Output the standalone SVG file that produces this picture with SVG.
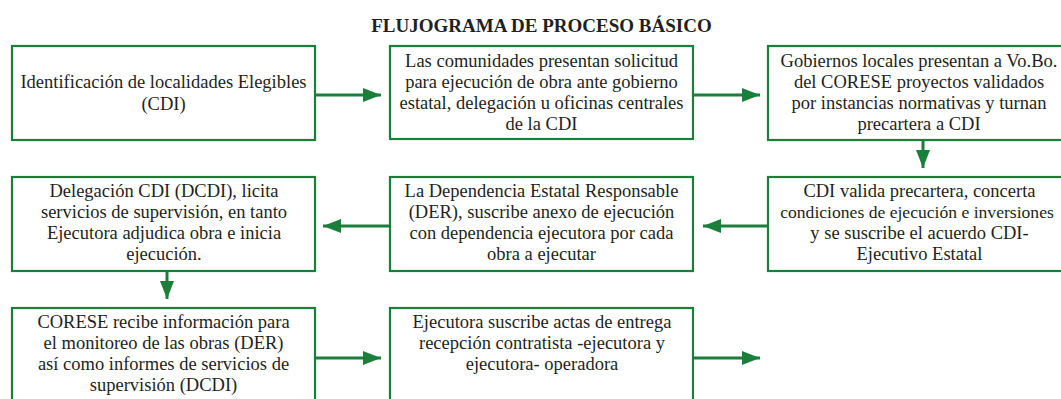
<svg xmlns="http://www.w3.org/2000/svg" width="1061" height="399" viewBox="0 0 1061 399">
<style>
.box{fill:#ffffff;stroke:#1b7f3b;stroke-width:2.2}
.t{font-size:18.5px;fill:#231f20;text-anchor:middle}
.title{font-size:19px;font-weight:bold;fill:#231f20;text-anchor:middle}
.c{stroke:#1b7f3b;stroke-width:3;fill:none}
</style>
<defs>
<marker id="ah" markerUnits="userSpaceOnUse" markerWidth="18" markerHeight="14" refX="18" refY="7" orient="auto">
<path d="M0,0 L18,7 L0,14 Z" fill="#1b7f3b"/>
</marker>
</defs>
<rect width="1061" height="399" fill="#ffffff"/>
<g font-family="'Liberation Serif', 'Times New Roman', 'DejaVu Serif', serif">
<text class="title" x="541.5" y="32">FLUJOGRAMA DE PROCESO BÁSICO</text>

<g id="n1">
<rect class="box" x="12" y="46" width="303" height="94"/>
<text class="t" x="163.5" y="88">Identificación de localidades Elegibles</text>
<text class="t" x="163.5" y="110">(CDI)</text>
</g>
<g id="n2">
<rect class="box" x="390" y="46" width="303" height="93"/>
<text class="t" x="541.5" y="67">Las comunidades presentan solicitud</text>
<text class="t" x="541.5" y="88">para ejecución de obra ante gobierno</text>
<text class="t" x="541.5" y="109">estatal, delegación u oficinas centrales</text>
<text class="t" x="541.5" y="130">de la CDI</text>
</g>
<g id="n3">
<rect class="box" x="768" y="46" width="310" height="94"/>
<text class="t" x="919" y="67">Gobiernos locales presentan a Vo.Bo.</text>
<text class="t" x="919" y="88">del CORESE proyectos validados</text>
<text class="t" x="919" y="109">por instancias normativas y turnan</text>
<text class="t" x="919" y="130">precartera a CDI</text>
</g>
<g id="n4">
<rect class="box" x="12" y="177" width="303" height="94"/>
<text class="t" x="164" y="197">Delegación CDI (DCDI), licita</text>
<text class="t" x="164" y="218">servicios de supervisión, en tanto</text>
<text class="t" x="164" y="239">Ejecutora adjudica obra e inicia</text>
<text class="t" x="164" y="260">ejecución.</text>
</g>
<g id="n5">
<rect class="box" x="390" y="177" width="303" height="94"/>
<text class="t" x="541.5" y="197">La Dependencia Estatal Responsable</text>
<text class="t" x="541.5" y="218">(DER), suscribe anexo de ejecución</text>
<text class="t" x="541.5" y="239">con dependencia ejecutora por cada</text>
<text class="t" x="541.5" y="260">obra a ejecutar</text>
</g>
<g id="n6">
<rect class="box" x="768" y="177" width="310" height="94"/>
<text class="t" x="919.5" y="197">CDI valida precartera, concerta</text>
<text class="t" x="917" y="218" style="font-size:17.6px">condiciones de ejecución e inversiones</text>
<text class="t" x="919.5" y="239">y se suscribe el acuerdo CDI-</text>
<text class="t" x="919.5" y="260">Ejecutivo Estatal</text>
</g>
<g id="n7">
<rect class="box" x="12" y="308" width="303" height="100"/>
<text class="t" x="163.5" y="328">CORESE recibe información para</text>
<text class="t" x="163.5" y="349">el monitoreo de las obras (DER)</text>
<text class="t" x="163.5" y="370">así como informes de servicios de</text>
<text class="t" x="163.5" y="391">supervisión (DCDI)</text>
</g>
<g id="n8">
<rect class="box" x="390" y="308" width="303" height="100"/>
<text class="t" x="542" y="328">Ejecutora suscribe actas de entrega</text>
<text class="t" x="542" y="349">recepción contratista -ejecutora y</text>
<text class="t" x="542" y="370">ejecutora- operadora</text>
</g>
</g>

<g id="connectors">
<line class="c" x1="316" y1="95" x2="381" y2="95" marker-end="url(#ah)"/>
<line class="c" x1="694" y1="95" x2="760" y2="95" marker-end="url(#ah)"/>
<line class="c" x1="923" y1="141" x2="923" y2="168" marker-end="url(#ah)"/>
<line class="c" x1="767" y1="226" x2="703" y2="226" marker-end="url(#ah)"/>
<line class="c" x1="389" y1="226" x2="323" y2="226" marker-end="url(#ah)"/>
<line class="c" x1="167" y1="272" x2="167" y2="299" marker-end="url(#ah)"/>
<line class="c" x1="316" y1="358" x2="381" y2="358" marker-end="url(#ah)"/>
<line class="c" x1="694" y1="358" x2="760" y2="358" marker-end="url(#ah)"/>
</g>
</svg>
